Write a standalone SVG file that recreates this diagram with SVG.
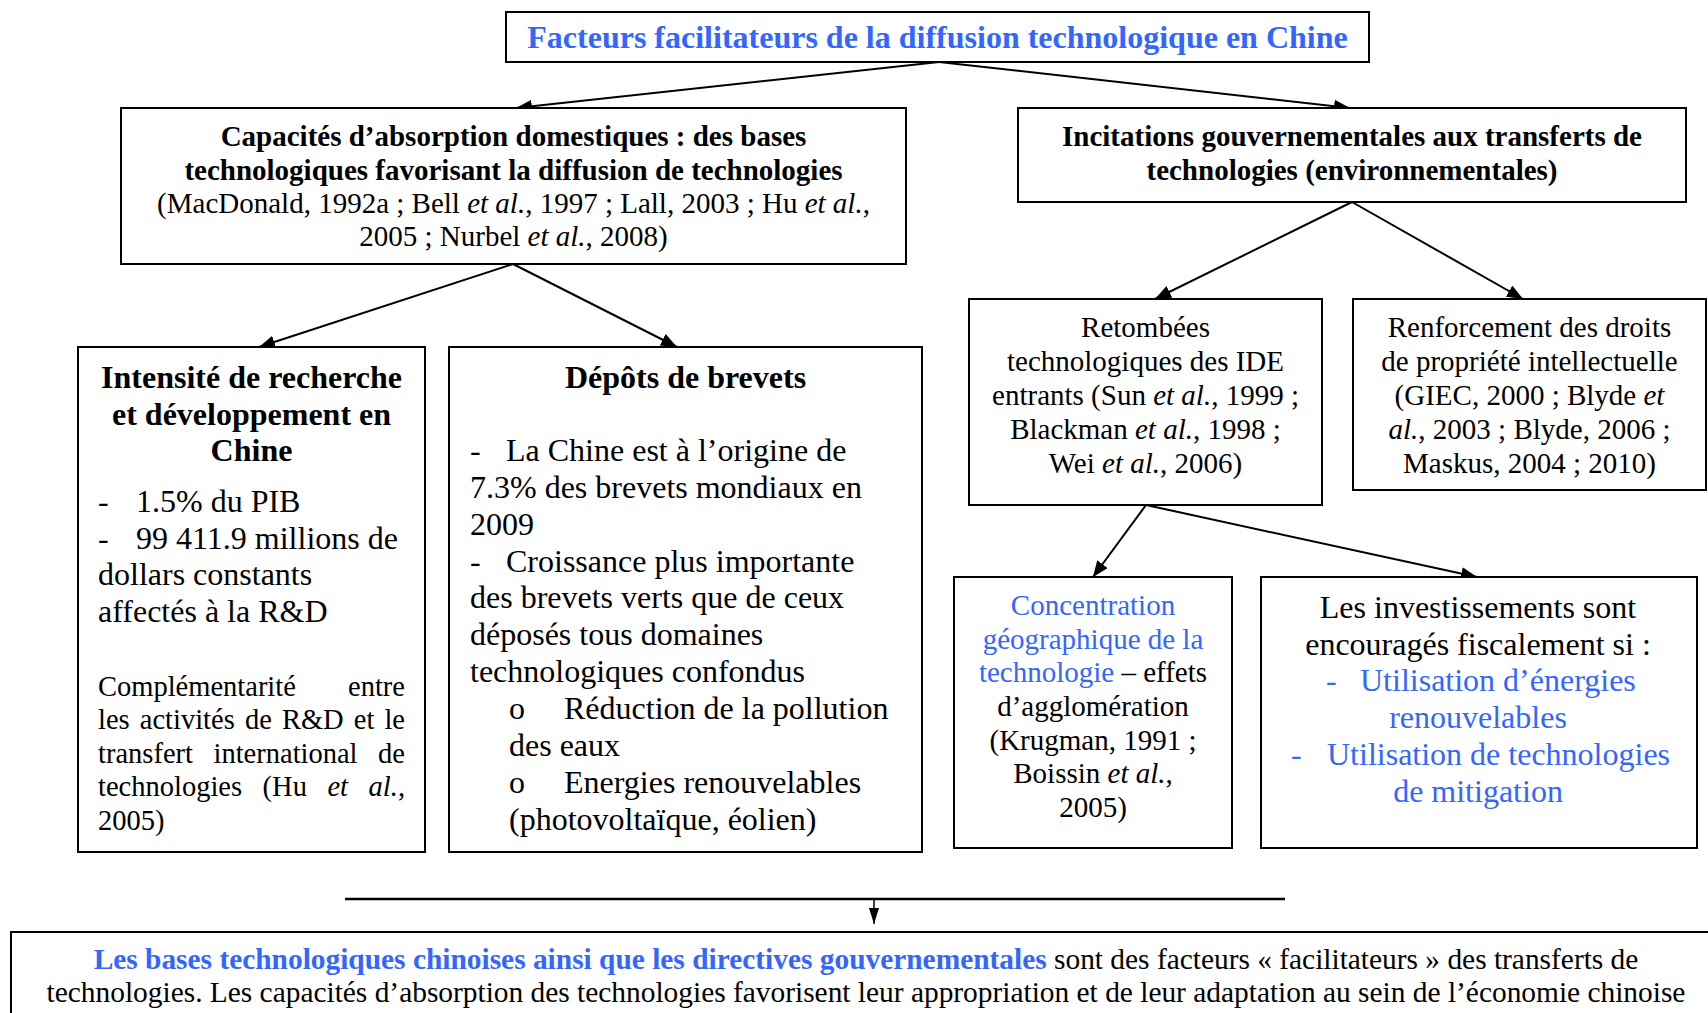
<svg xmlns="http://www.w3.org/2000/svg" width="1708" height="1013" viewBox="0 0 1708 1013">
<style>
text{font-family:"Liberation Serif","Times New Roman",serif;fill:#000}
.b{font-weight:bold}
.bl{fill:#3366FF}
.s29{font-size:29px}
.s32{font-size:32px}
.s28{font-size:28.5px}
.s294{font-size:29.4px}
.m{text-anchor:middle}
.e{text-anchor:end}
.i{font-style:italic}
.box{fill:#fff;stroke:#000;stroke-width:2}
.conn{stroke:#000;stroke-width:2;fill:none;marker-end:url(#ah)}
</style>
<defs>
<marker id="ah" markerUnits="userSpaceOnUse" markerWidth="17" markerHeight="13" refX="16" refY="6.5" orient="auto">
<path d="M0,0 L16,6.5 L0,13 z" fill="#000"/>
</marker>
<marker id="ah2" markerUnits="userSpaceOnUse" markerWidth="16" markerHeight="11" refX="16" refY="5" orient="auto">
<path d="M0,0 L16,5 L0,10 z" fill="#000"/>
</marker>
</defs>
<rect width="1708" height="1013" fill="#fff"/>

<g id="connectors">
<line class="conn" x1="939" y1="62" x2="516" y2="108"/>
<line class="conn" x1="939" y1="62" x2="1350" y2="108"/>
<line class="conn" x1="513" y1="264" x2="259" y2="347"/>
<line class="conn" x1="513" y1="264" x2="677" y2="347"/>
<line class="conn" x1="1352" y1="202" x2="1155" y2="299"/>
<line class="conn" x1="1352" y1="202" x2="1523" y2="299"/>
<line class="conn" x1="1146" y1="505" x2="1093" y2="577"/>
<line class="conn" x1="1146" y1="505" x2="1477" y2="577"/>
<line x1="345" y1="899" x2="1285" y2="899" stroke="#000" stroke-width="2.5"/>
<line x1="874" y1="899" x2="874" y2="924" stroke="#000" stroke-width="1.5" marker-end="url(#ah2)"/>
</g>

<g id="title">
<rect class="box" x="506" y="12" width="863" height="50"/>
<text class="b bl s32 m" x="937.5" y="47.5">Facteurs facilitateurs de la diffusion technologique en Chine</text>
</g>

<g id="capacites">
<rect class="box" x="121" y="108" width="785" height="156"/>
<text class="b s29 m" x="513.5" y="146">Capacités d’absorption domestiques : des bases</text>
<text class="b s29 m" x="513.5" y="179.5">technologiques favorisant la diffusion de technologies</text>
<text class="s29 m" x="513.5" y="212.5">(MacDonald, 1992a ; Bell <tspan class="i">et al.</tspan>, 1997 ; Lall, 2003 ; Hu <tspan class="i">et al.</tspan>,</text>
<text class="s29 m" x="513.5" y="245.5">2005 ; Nurbel <tspan class="i">et al.</tspan>, 2008)</text>
</g>

<g id="incitations">
<rect class="box" x="1018" y="108" width="668" height="94"/>
<text class="b s29 m" x="1352" y="146">Incitations gouvernementales aux transferts de</text>
<text class="b s29 m" x="1352" y="179.5">technologies (environnementales)</text>
</g>

<g id="intensite">
<rect class="box" x="78" y="347" width="347" height="505"/>
<text class="b s32 m" x="251.5" y="388">Intensité de recherche</text>
<text class="b s32 m" x="251.5" y="424.5">et développement en</text>
<text class="b s32 m" x="251.5" y="461">Chine</text>
<text class="s32" x="98" y="512">-</text>
<text class="s32" x="136" y="512">1.5% du PIB</text>
<text class="s32" x="98" y="548.5">-</text>
<text class="s32" x="136" y="548.5">99 411.9 millions de</text>
<text class="s32" x="98" y="585">dollars constants</text>
<text class="s32" x="98" y="622">affectés à la R&amp;D</text>
<text class="s28" x="98" y="695.5">Complémentarité</text>
<text class="s28 e" x="405" y="695.5">entre</text>
<text class="s28" y="729"><tspan x="98">les</tspan><tspan x="139.8">activités</tspan><tspan x="244.9">de</tspan><tspan x="281.9">R&amp;D</tspan><tspan x="353.8">et</tspan></text>
<text class="s28 e" x="405" y="729">le</text>
<text class="s28" y="762.5"><tspan x="98">transfert</tspan><tspan x="213.5">international</tspan></text>
<text class="s28 e" x="405" y="762.5">de</text>
<text class="s28" y="796"><tspan x="98">technologies</tspan><tspan x="262.6">(Hu</tspan><tspan x="327.4" class="i">et</tspan></text>
<text class="s28 e" x="405" y="796"><tspan class="i">al.</tspan>,</text>
<text class="s28" x="98" y="829.5">2005)</text>
</g>

<g id="depots">
<rect class="box" x="449" y="347" width="473" height="505"/>
<text class="b s32 m" x="685.5" y="388">Dépôts de brevets</text>
<text class="s32" x="470" y="460.5">-</text>
<text class="s32" x="506" y="460.5">La Chine est à l’origine de</text>
<text class="s32" x="470" y="497.5">7.3% des brevets mondiaux en</text>
<text class="s32" x="470" y="534.5">2009</text>
<text class="s32" x="470" y="571.5">-</text>
<text class="s32" x="506" y="571.5">Croissance plus importante</text>
<text class="s32" x="470" y="608">des brevets verts que de ceux</text>
<text class="s32" x="470" y="645">déposés tous domaines</text>
<text class="s32" x="470" y="682">technologiques confondus</text>
<text class="s32" x="509" y="718.5">o</text>
<text class="s32" x="564" y="718.5">Réduction de la pollution</text>
<text class="s32" x="509" y="755.5">des eaux</text>
<text class="s32" x="509" y="792.5">o</text>
<text class="s32" x="564" y="792.5">Energies renouvelables</text>
<text class="s32" x="509" y="829.5">(photovoltaïque, éolien)</text>
</g>

<g id="retombees">
<rect class="box" x="969" y="299" width="353" height="206"/>
<text class="s29 m" x="1145.5" y="336.5">Retombées</text>
<text class="s29 m" x="1145.5" y="370.5">technologiques des IDE</text>
<text class="s29 m" x="1145.5" y="404.5">entrants (Sun <tspan class="i">et al.</tspan>, 1999 ;</text>
<text class="s29 m" x="1145.5" y="438.5">Blackman <tspan class="i">et al.</tspan>, 1998 ;</text>
<text class="s29 m" x="1145.5" y="472.5">Wei <tspan class="i">et al.</tspan>, 2006)</text>
</g>

<g id="renforcement">
<rect class="box" x="1353" y="299" width="353" height="191"/>
<text class="s29 m" x="1529.5" y="336.5">Renforcement des droits</text>
<text class="s29 m" x="1529.5" y="370.5">de propriété intellectuelle</text>
<text class="s29 m" x="1529.5" y="404.5">(GIEC, 2000 ; Blyde <tspan class="i">et</tspan></text>
<text class="s29 m" x="1529.5" y="438.5"><tspan class="i">al.</tspan>, 2003 ; Blyde, 2006 ;</text>
<text class="s29 m" x="1529.5" y="472.5">Maskus, 2004 ; 2010)</text>
</g>

<g id="concentration">
<rect class="box" x="954" y="577" width="278" height="271"/>
<text class="s29 m bl" x="1093" y="615">Concentration</text>
<text class="s29 m bl" x="1093" y="648.5">géographique de la</text>
<text class="s29 m" x="1093" y="682"><tspan class="bl">technologie</tspan> – effets</text>
<text class="s29 m" x="1093" y="716">d’agglomération</text>
<text class="s29 m" x="1093" y="749.5">(Krugman, 1991 ;</text>
<text class="s29 m" x="1093" y="783">Boissin <tspan class="i">et al.</tspan>,</text>
<text class="s29 m" x="1093" y="817">2005)</text>
</g>

<g id="investissements">
<rect class="box" x="1261" y="577" width="436" height="271"/>
<text class="s32 m" x="1478" y="618">Les investissements sont</text>
<text class="s32 m" x="1478" y="654.7">encouragés fiscalement si :</text>
<text class="s32 bl" x="1326" y="691.4">-</text>
<text class="s32 bl" x="1360" y="691.4">Utilisation d’énergies</text>
<text class="s32 m bl" x="1478" y="728">renouvelables</text>
<text class="s32 bl" x="1291" y="764.8">-</text>
<text class="s32 bl" x="1327" y="764.8">Utilisation de technologies</text>
<text class="s32 m bl" x="1478" y="801.5">de mitigation</text>
</g>

<g id="conclusion">
<rect class="box" x="11" y="932" width="1720" height="200"/>
<text class="s294 m" x="866" y="969"><tspan class="b bl">Les bases technologiques chinoises ainsi que les directives gouvernementales</tspan> sont des facteurs « facilitateurs » des transferts de</text>
<text class="s294 m" x="866" y="1002">technologies. Les capacités d’absorption des technologies favorisent leur appropriation et de leur adaptation au sein de l’économie chinoise</text>
</g>
</svg>
